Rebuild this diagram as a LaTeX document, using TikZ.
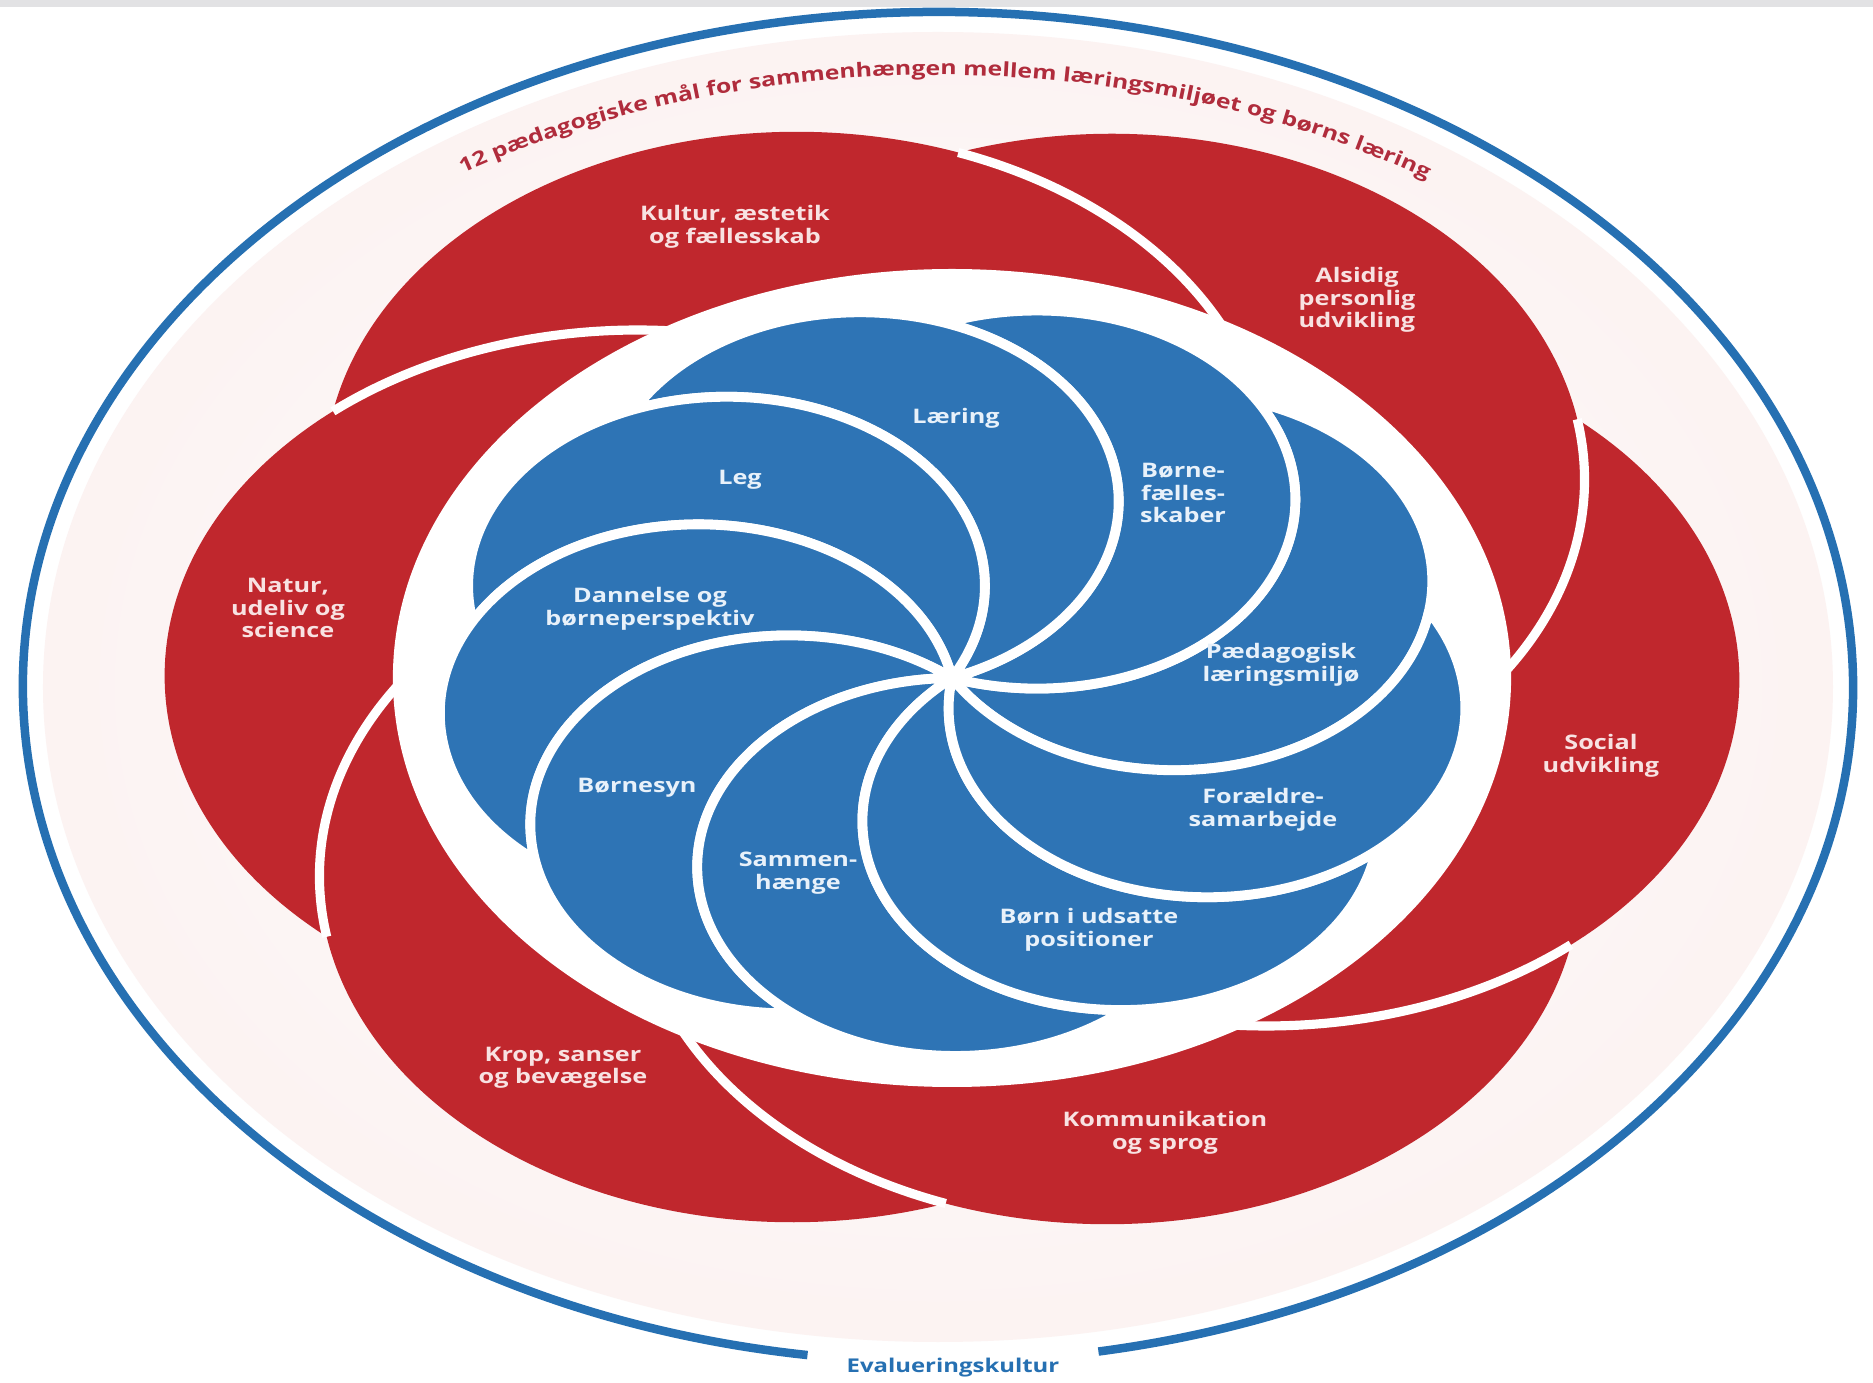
\documentclass[tikz,border=0pt]{standalone}
\usepackage{fontspec}
\setmainfont{Open Sans}[FakeStretch=1.26]
\usetikzlibrary{decorations.text}
\definecolor{petalblue}{RGB}{46,116,181}
\definecolor{petalred}{RGB}{192,39,45}
\definecolor{pinkl}{RGB}{251,240,239}
\definecolor{pinkm}{RGB}{248,229,228}
\definecolor{pinkc}{RGB}{246,224,223}
\definecolor{arcred}{RGB}{176,44,60}
\definecolor{lineblue}{RGB}{38,112,178}
\definecolor{bluetext}{RGB}{232,241,250}
\definecolor{redtext}{RGB}{248,226,226}
\definecolor{topgray}{RGB}{226,226,228}
\pgfdeclareradialshading{pinkfade}{\pgfpoint{0bp}{0bp}}{color(0bp)=(white); color(30bp)=(pinkl); color(44bp)=(pinkm); color(50bp)=(pinkc); color(100bp)=(pinkc)}
\newcommand\dklabelfont{\bfseries\fontsize{5.7}{6.4}\selectfont}
\newcommand\dkarcfont{\bfseries\fontsize{5.6}{6.4}\selectfont}
\newcommand\dkevalfont{\bfseries\fontsize{5.4}{6.4}\selectfont}
\tikzset{
  petallabel/.style={font=\dklabelfont, align=center, inner sep=0pt},
  bluelabel/.style={petallabel, text=bluetext},
  redlabel/.style={petallabel, text=redtext},
  bluepetal/.style={fill=petalblue, draw=white, line width=2.8pt, line join=round},
  redpetal/.style={fill=petalred},
  redsep/.style={draw=white, line width=2.6pt},
}
\begin{document}
\begin{tikzpicture}
\useasboundingbox (-9.52,-7.05) rectangle (9.21,6.78);
\fill[white] (-9.52,-7.05) rectangle (9.21,6.78);
\fill[topgray] (-9.52,6.71) rectangle (9.21,6.78);
% outer frame
\begin{scope}[shift={(-0.14,-0.09)}]
  \shade[shading=pinkfade] (0,0) ellipse[x radius=8.95, y radius=6.55];
  \draw[lineblue, line width=0.85mm] (280.1:9.15 and 6.75) arc[start angle=280.1, end angle=621.8, x radius=9.15, y radius=6.75];
  \path[decorate, decoration={text along path, text align=center, text color=arcred,
     text={|\dkarcfont|12 pædagogiske mål for sammenhængen mellem læringsmiljøet og børns læring}}]
     (130:8.75 and 6.12) arc[start angle=130, end angle=49, x radius=8.75, y radius=6.12];
\end{scope}
% petals
\begin{scope}[xscale=1.367]
  \pgfmathsetmacro\rd{2.30}
  \pgfmathsetmacro\rR{3.46}
  \pgfmathsetmacro\tp{\rd*cos(30)+sqrt(\rR*\rR-\rd*\rd/4)}
  \pgfmathsetmacro\tm{\rd*cos(30)-sqrt(\rR*\rR-\rd*\rd/4)}
  \pgfmathsetmacro\aP{atan2(\tp/2,\tp*cos(30)-\rd)}
  \pgfmathsetmacro\aQ{atan2(\tm/2,\tm*cos(30)-\rd)}
  \foreach \ang in {-0.5,59.5,119.5,179.5,239.5,299.5}{
    \fill[redpetal] ([shift={(\ang:\rd)}]\ang+\aP:\rR)
      arc[start angle={\ang+\aP}, end angle={\ang+\aQ}, radius=\rR]
      arc[start angle={\ang+60-(\aQ)-360}, end angle={\ang+60-\aP}, radius=\rR] -- cycle;
  }
  \foreach \ang in {-0.5,59.5,119.5,179.5,239.5,299.5}{
    \draw[redsep] ([shift={(\ang+60:\rd)}]\ang+60-\aP:\rR)
      arc[start angle={\ang+60-\aP}, end angle={\ang-45}, radius=\rR];
  }
  \fill[white] (0,0) circle[radius=4.09];
  \foreach \ang in {30.8,70.8,110.8,150.8,190.8,230.8,270.8,310.8,350.8}{
    \filldraw[bluepetal] (0,0)
      arc[start angle={\ang-180}, end angle={\ang+40}, radius=1.89]
      arc[start angle={\ang}, end angle={\ang-140}, radius=1.89] -- cycle;
  }
\end{scope}
% red labels
\node[redlabel] (kultur) at (-2.17,4.51) {Kultur, æstetik\\og fællesskab};
\node[redlabel] (alsidig) at (4.05,3.78) {Alsidig\\personlig\\udvikling};
\node[redlabel] (social) at (6.49,-0.78) {Social\\udvikling};
\node[redlabel] (kommunikation) at (2.13,-4.55) {Kommunikation\\og sprog};
\node[redlabel] (krop) at (-3.89,-3.90) {Krop, sanser\\og bevægelse};
\node[redlabel] (natur) at (-6.64,0.70) {Natur,\\udeliv og\\science};
% blue labels
\node[bluelabel] (laering) at (0.04,2.60) {Læring};
\node[bluelabel] (leg) at (-2.12,1.98) {Leg};
\node[bluelabel] (boernefaelles) at (2.31,1.85) {Børne-\\fælles-\\skaber};
\node[bluelabel] (paedagogisk) at (3.29,0.13) {Pædagogisk\\læringsmiljø};
\node[bluelabel] (foraeldre) at (3.11,-1.32) {Forældre-\\samarbejde};
\node[bluelabel] (udsatte) at (1.37,-2.52) {Børn i udsatte\\positioner};
\node[bluelabel] (sammen) at (-1.54,-1.95) {Sammen-\\hænge};
\node[bluelabel] (boernesyn) at (-3.15,-1.10) {Børnesyn};
\node[bluelabel] (dannelse) at (-3.02,0.69) {Dannelse og\\børneperspektiv};
% bottom label
\node[petallabel, font=\dkevalfont, text=lineblue] (evalkultur) at (0.01,-6.90) {Evalueringskultur};
\end{tikzpicture}
\end{document}
